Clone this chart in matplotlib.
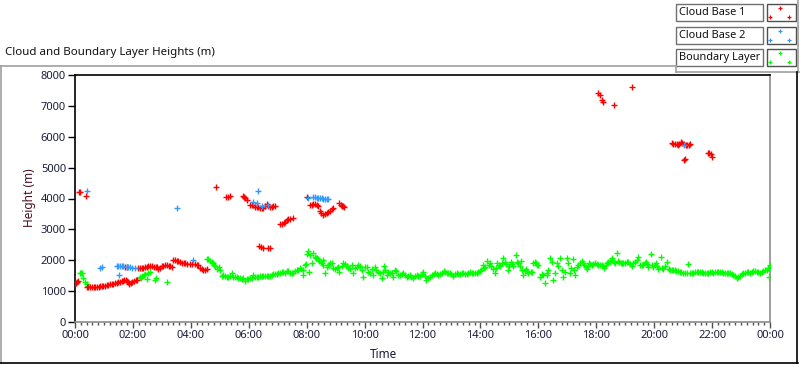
import matplotlib
matplotlib.use("Agg")
import matplotlib.pyplot as plt
from matplotlib.lines import Line2D
from matplotlib.patches import Rectangle
from matplotlib.ticker import MultipleLocator, FuncFormatter

plt.rcParams['font.family'] = ['Noto Sans', 'DejaVu Sans']

# Cloud base 1 (red): time in hours, height in metres
cb1_time = [0.00, 0.03, 0.06, 0.11,
            0.13, 0.17, 0.38,
            0.40, 0.46, 0.52, 0.58, 0.64, 0.70, 0.76, 0.82, 0.88, 0.94, 0.98, 1.04,
            1.10, 1.15, 1.22, 1.28, 1.32, 1.38, 1.44, 1.50, 1.56, 1.62, 1.65, 1.70,
            1.76, 1.80, 1.84, 1.88, 1.92, 1.98, 2.04, 2.10, 2.13,
            1.73, 1.78, 2.19, 2.24, 2.30, 2.36, 2.42, 2.47, 2.53, 2.59, 2.65, 2.72,
            2.78, 2.82, 2.88, 2.92, 2.99, 3.05, 3.11, 3.17, 3.23, 3.29, 3.34, 3.39,
            3.45, 3.51, 3.57, 3.63, 3.70, 3.76, 3.80, 3.88, 3.97, 4.05, 4.14, 4.20,
            4.26, 4.32, 4.37, 4.43, 4.49, 4.55,
            4.86, 5.21, 5.28, 5.35, 5.79, 5.83, 5.87, 5.93, 6.04, 6.10, 6.16, 6.22,
            6.28, 6.33, 6.40, 6.45, 6.50, 6.56, 6.62, 6.68, 6.74, 6.79, 6.85, 6.91,
            6.36, 6.42, 6.48, 6.66, 6.72,
            7.08, 7.14, 7.20, 7.25, 7.31, 7.37, 7.44, 7.52,
            8.00, 8.11, 8.17, 8.23, 8.29, 8.35, 8.40, 8.46, 8.50, 8.55, 8.62, 8.69,
            8.75, 8.81, 8.87, 8.92,
            9.13, 9.17, 9.21, 9.25, 9.29,
            18.07, 18.13, 18.19, 18.24, 18.61, 19.25,
            20.60, 20.66, 20.72, 20.78, 20.83, 20.87, 20.91, 20.97, 21.03, 21.09,
            21.15, 21.20, 21.24, 21.03, 21.06, 21.87, 21.91, 21.95, 21.99]
cb1_height = [1263, 1273, 1305, 1328,
              4200, 4220, 4080,
              1123, 1123, 1123, 1123, 1130, 1130, 1135, 1140, 1150, 1160, 1166, 1180,
              1195, 1208, 1220, 1230, 1241, 1255, 1270, 1286, 1305, 1325, 1338, 1350,
              1360, 1330, 1286, 1231, 1260, 1300, 1328, 1350, 1360,
              1772, 1770, 1739, 1745, 1739, 1760, 1780, 1791, 1800, 1808, 1814, 1795,
              1780, 1772, 1707, 1760, 1814, 1825, 1830, 1837, 1820, 1800, 1791, 2008,
              1995, 1986, 1960, 1934, 1915, 1905, 1901, 1890, 1879, 1879, 1879, 1860,
              1846, 1760, 1707, 1690, 1684, 1707,
              4363, 4039, 4060, 4081, 4081, 4040, 4007, 3952, 3790, 3790, 3790, 3740,
              3720, 3715, 3700, 3690, 3683, 3750, 3812, 3770, 3740, 3735, 3755, 3767,
              2450, 2430, 2410, 2390, 2387,
              3174, 3185, 3220, 3249, 3290, 3326, 3345, 3359,
              4039, 3790, 3800, 3810, 3812, 3790, 3767, 3605, 3530, 3466, 3500, 3540,
              3570, 3605, 3650, 3683,
              3845, 3800, 3767, 3750, 3735,
              7407, 7363, 7191, 7115, 7029, 7602,
              5787, 5770, 5765, 5750, 5733, 5780, 5820, 5790, 5765, 5740,
              5722, 5740, 5754, 5247, 5290, 5485, 5460, 5441, 5355]

# Cloud base 2 (blue)
cb2_time = [0.40, 0.86, 0.92, 1.44, 1.50, 1.56, 1.62, 1.67, 1.52, 1.78, 1.84, 1.90,
            1.96, 2.07, 3.53, 4.09, 6.16, 6.30, 6.33, 6.45, 6.68, 8.06, 8.23, 8.29,
            8.35, 8.40, 8.46, 8.52, 8.58, 8.64, 8.70, 8.75, 21.04]
cb2_height = [4253, 1759, 1791, 1804, 1810, 1810, 1804, 1800, 1522, 1791, 1780, 1772,
              1760, 1739, 3682, 2008, 3877, 3845, 4253, 3757, 3790, 4007, 4040, 4035,
              4030, 4020, 4010, 4015, 4000, 3990, 3985, 3975, 5733]

# Boundary layer (green)
bl_time = [0.17, 0.20, 0.23, 0.29, 0.35, 0.40, 0.44,
           2.24, 2.28, 2.33, 2.38, 2.42, 2.47, 2.53, 2.60, 2.76, 2.80, 3.17,
           4.55, 4.60, 4.66, 4.72, 4.75, 4.80, 4.83, 4.89, 4.98, 5.01,
           5.06, 5.10, 5.17, 5.24, 5.30, 5.36, 5.41, 5.46, 5.52, 5.58, 5.64, 5.70,
           5.76, 5.81, 5.87, 5.93, 5.98, 6.04, 6.10, 6.16, 6.22, 6.28, 6.33, 6.39,
           6.45, 6.50, 6.56, 6.62, 6.68, 6.73, 6.79, 6.85, 6.91, 6.96, 7.02, 7.08,
           7.14, 7.19, 7.25, 7.31, 7.37, 7.43, 7.49, 7.54, 7.60, 7.65, 7.71, 7.77,
           7.82, 7.86, 7.88, 7.94, 7.98, 8.02, 8.06, 8.09, 8.12, 8.17, 8.23, 8.29,
           8.33, 8.37, 8.40, 8.44, 8.48, 8.52, 8.55, 8.57, 8.63, 8.69, 8.74, 8.78,
           8.81, 8.86, 8.92, 8.98, 9.04, 9.09, 9.13, 9.21, 9.27, 9.32, 9.38, 9.44,
           9.50, 9.55, 9.61, 9.67, 9.73, 9.78, 9.84, 9.90, 9.96, 10.01, 10.07, 10.13,
           10.18, 10.24, 10.28, 10.36, 10.41, 10.47, 10.53, 10.59, 10.64, 10.67, 10.70, 10.76,
           10.82, 10.88, 10.93, 10.99, 11.05, 11.10, 11.16, 11.22, 11.28, 11.34, 11.40, 11.45,
           11.51, 11.57, 11.62, 11.68, 11.74, 11.80, 11.86, 11.91, 11.97, 12.03, 12.08, 12.12,
           12.20, 12.26, 12.32, 12.38, 12.43, 12.49, 12.55, 12.60, 12.66, 12.74, 12.78, 12.83,
           12.89, 12.95, 13.00, 13.06, 13.12, 13.18, 13.24, 13.29, 13.35, 13.41, 13.47, 13.52,
           13.58, 13.64, 13.70, 13.75, 13.81, 13.87, 13.93, 13.98, 14.03, 14.08, 14.12, 14.16,
           14.24, 14.29, 14.33, 14.38, 14.42, 14.50, 14.54, 14.58, 14.63, 14.68, 14.74, 14.79,
           14.84, 14.88, 14.96, 15.00, 15.04, 15.09, 15.13, 15.22, 15.26, 15.31, 15.35, 15.39,
           15.44, 15.48, 15.53, 15.57, 15.61, 15.65, 15.73, 15.77, 15.82, 15.88, 15.92, 15.96,
           16.00, 16.06, 16.11, 16.15, 16.23, 16.29, 16.31, 16.35, 16.40, 16.46, 16.52, 16.58,
           16.63, 16.69, 16.75, 16.81, 16.86, 16.92, 16.98, 17.03, 17.09, 17.14, 17.18, 17.22,
           17.27, 17.32, 17.38, 17.44, 17.50, 17.54, 17.58, 17.63, 17.67, 17.72, 17.76, 17.80,
           17.84, 17.90, 17.96, 18.01, 18.07, 18.13, 18.19, 18.23, 18.27, 18.32, 18.36, 18.42,
           18.47, 18.52, 18.56, 18.61, 18.65, 18.70, 18.75, 18.79, 18.84, 18.88, 18.94, 18.99,
           19.05, 19.11, 19.17, 19.22, 19.28, 19.34, 19.40, 19.45, 19.51, 19.57, 19.62, 19.67,
           19.72, 19.76, 19.80, 19.88, 19.92, 19.97, 20.02, 20.06, 20.10, 20.14, 20.23, 20.27,
           20.31, 20.38, 20.45, 20.50, 20.54, 20.60, 20.66, 20.71, 20.77, 20.83, 20.89, 20.94,
           21.00, 21.06, 21.12, 21.17, 21.24, 21.29, 21.35, 21.41, 21.47, 21.52, 21.58, 21.64,
           21.70, 21.76, 21.81, 21.87, 21.93, 21.99, 22.04, 22.10, 22.16, 22.21, 22.27, 22.33,
           22.39, 22.45, 22.50, 22.56, 22.62, 22.68, 22.73, 22.79, 22.85, 22.90, 22.96, 23.02,
           23.08, 23.14, 23.20, 23.25, 23.31, 23.37, 23.43, 23.48, 23.54, 23.60, 23.66, 23.71,
           23.77, 23.83, 23.89, 23.94, 23.98, 24.00]
bl_height = [1598, 1590, 1577, 1415, 1306, 1221, 1166,
             1447, 1420, 1490, 1510, 1545, 1383, 1598, 1620, 1360, 1435, 1306,
             2040, 2031, 1976, 1953, 1901, 1846, 1814, 1707, 1791, 1684,
             1490, 1522, 1500, 1447, 1470, 1480, 1598, 1470, 1447, 1447, 1430, 1420,
             1383, 1415, 1338, 1400, 1383, 1415, 1430, 1522, 1460, 1470, 1468, 1480,
             1485, 1490, 1500, 1480, 1490, 1490, 1520, 1555, 1540, 1560, 1577, 1600,
             1610, 1630, 1600, 1640, 1652, 1600, 1590, 1577, 1650, 1684, 1700, 1739,
             1720, 1522, 1684, 1846, 1879, 2202, 2310, 1630, 2170, 1901, 2245, 2115,
             2080, 2063, 2031, 1986, 1953, 1901, 1846, 2008, 1598, 1791, 1830, 1846,
             1901, 1901, 1760, 1707, 1740, 1791, 1630, 1814, 1901, 1879, 1814, 1739,
             1707, 1846, 1577, 1739, 1772, 1846, 1814, 1684, 1468, 1791, 1772, 1630,
             1598, 1707, 1522, 1772, 1700, 1630, 1580, 1415, 1620, 1814, 1700, 1522,
             1630, 1577, 1577, 1468, 1684, 1662, 1522, 1522, 1560, 1577, 1520, 1468,
             1500, 1522, 1470, 1415, 1480, 1522, 1500, 1490, 1550, 1630, 1480, 1360,
             1415, 1470, 1522, 1550, 1577, 1550, 1522, 1560, 1598, 1662, 1620, 1577,
             1590, 1598, 1550, 1490, 1540, 1577, 1560, 1555, 1580, 1598, 1570, 1555,
             1600, 1630, 1600, 1577, 1590, 1598, 1630, 1662, 1700, 1846, 1750, 1791,
             1986, 1850, 1901, 1800, 1707, 1577, 1750, 1922, 1850, 1814, 1900, 2063,
             1950, 1879, 1684, 1800, 1953, 1880, 1814, 2170, 1950, 1901, 1820, 1986,
             1700, 1522, 1650, 1707, 1650, 1598, 1630, 1630, 1901, 1953, 1900, 1846,
             1846, 1468, 1560, 1522, 1273, 1522, 1577, 1700, 2063, 1953, 1360, 1577,
             1901, 1800, 2063, 1684, 1447, 1630, 2063, 1901, 1577, 1750, 2031, 1700,
             1522, 1791, 1850, 1922, 1986, 1900, 1846, 1780, 1707, 1820, 1901, 1880,
             1846, 1870, 1901, 1880, 1846, 1860, 1846, 1800, 1739, 1850, 1901, 1930,
             1953, 2000, 2063, 1950, 1901, 2225, 1980, 1953, 1920, 1901, 1900, 1901,
             1930, 1953, 1880, 1814, 1900, 1953, 2000, 2096, 1846, 1850, 1846, 1900,
             1953, 1880, 1791, 2192, 1850, 1772, 1850, 1901, 1800, 1707, 2096, 1750,
             1707, 1800, 1953, 1720, 1684, 1690, 1684, 1670, 1662, 1650, 1630, 1610,
             1598, 1590, 1577, 1868, 1577, 1590, 1598, 1610, 1630, 1630, 1630, 1610,
             1598, 1590, 1577, 1600, 1630, 1610, 1598, 1610, 1630, 1630, 1630, 1610,
             1598, 1590, 1577, 1577, 1577, 1550, 1522, 1480, 1436, 1460, 1490, 1540,
             1577, 1600, 1630, 1610, 1598, 1630, 1662, 1640, 1630, 1610, 1598, 1630,
             1662, 1670, 1684, 1750, 1468, 1846]

series_names = ['Cloud Base 1', 'Cloud Base 2', 'Boundary Layer']
series_colors = ['#ff0000', '#3399ff', '#00ff00']

W, H = 800, 365
fig = plt.figure(figsize=(8, 3.65), dpi=100)


def fx(x):
    return x / W


def fy(y):
    return 1 - y / H


ax = fig.add_axes([fx(75), fy(322), 695 / W, 247 / H])

mk = dict(linestyle='none', marker='+', markersize=4, markeredgewidth=1.0)
ax.plot(bl_time, bl_height, color=series_colors[2], zorder=3, **mk)
ax.plot(cb1_time, cb1_height, color=series_colors[0], zorder=4, **mk)
ax.plot(cb2_time, cb2_height, color=series_colors[1], zorder=5, **mk)

ax.set_xlim(0, 24)
ax.set_ylim(0, 8000)
ax.xaxis.set_major_locator(MultipleLocator(2))
ax.xaxis.set_minor_locator(MultipleLocator(0.2))
ax.yaxis.set_major_locator(MultipleLocator(1000))
ax.xaxis.set_major_formatter(FuncFormatter(lambda v, p: '%02d:00' % (int(round(v)) % 24)))

lab_color = '#1c1c3c'
ax.tick_params(axis='y', which='major', direction='out', length=5, width=1,
               color='black', labelsize=8, labelcolor=lab_color, pad=1.5)
ax.tick_params(axis='x', which='major', direction='out', length=4, width=1,
               color='#505050', labelsize=8, labelcolor=lab_color, pad=2)
ax.tick_params(axis='x', which='minor', direction='out', length=2, width=1, color='#505050')

for s in ['left', 'top']:
    ax.spines[s].set_color('black')
    ax.spines[s].set_linewidth(1.2)
for s in ['bottom', 'right']:
    ax.spines[s].set_color('#8c8c8c')
    ax.spines[s].set_linewidth(1.2)

fig.text(fx(5), fy(53), 'Cloud and Boundary Layer Heights (m)', fontsize=8.3,
         ha='left', va='center', color='#111111')
fig.text(fx(30), fy(198), 'Height (m)', fontsize=8.5, rotation=90,
         ha='center', va='center', color='#4a1020')
fig.text(fx(383), fy(354), 'Time', fontsize=8.5, ha='center', va='center',
         color='#1c1c3c')

# panel frame
frame = [((0, 66), (676, 66), '#a0a0a0'), ((1, 66), (1, 363), '#a0a0a0'),
         ((676, 66), (676, 72), '#a0a0a0'), ((676, 72), (799, 72), '#a0a0a0'),
         ((798, 0), (798, 72), '#a0a0a0'),
         ((0, 363), (798, 363), 'black'), ((797, 72), (797, 363), 'black')]
for (x0, y0), (x1, y1), c in frame:
    fig.add_artist(Line2D([fx(x0), fx(x1)], [fy(y0), fy(y1)], color=c, lw=1.2))

# legend boxes
box_tops = [4, 27, 49]
for name, col, top in zip(series_names, series_colors, box_tops):
    fig.add_artist(Rectangle((fx(676), fy(top + 17)), 87 / W, 17 / H, facecolor='white',
                             edgecolor='#707070', lw=1))
    fig.text(fx(679), fy(top + 8.5), name, fontsize=7.9, ha='left', va='center',
             color='#111111')
    fig.add_artist(Rectangle((fx(767), fy(top + 17)), 29 / W, 17 / H, facecolor='white',
                             edgecolor='#505050', lw=1))
    fig.add_artist(Line2D([fx(779.5), fx(770), fx(789)],
                          [fy(top + 4), fy(top + 12.5), fy(top + 12.5)],
                          color=col, linestyle='none', marker='+',
                          markersize=3.2, markeredgewidth=0.9))

fig.savefig('out.png', dpi=100)
